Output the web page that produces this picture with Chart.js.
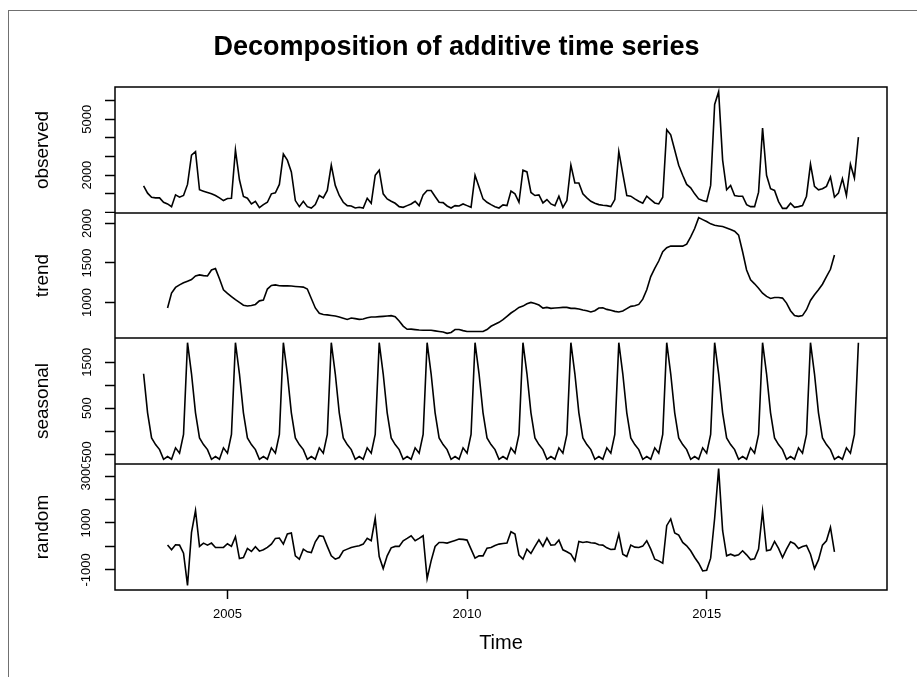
<!DOCTYPE html>
<html lang="en">
<head>
  <meta charset="UTF-8">
  <title>Decomposition of additive time series</title>
  <script src="https://cdn.jsdelivr.net/npm/chart.js"></script>
  <style>
    body { margin: 0; background: #fff; overflow: hidden; }
    #frame { position: absolute; left: 8px; top: 10px; width: 909px; height: 667px;
             border-left: 1px solid #707070; border-top: 1px solid #707070; }
    canvas { position: absolute; left: 0; }
  </style>
</head>
<body>
  <div id="frame"></div>
  <canvas id="c1" width="917" height="213" style="top:0px"></canvas>
  <canvas id="c2" width="917" height="125" style="top:213px"></canvas>
  <canvas id="c3" width="917" height="126" style="top:338px"></canvas>
  <canvas id="c4" width="917" height="213" style="top:464px"></canvas>

  <script>
    // monthly series, April 2003 .. March 2018
    const startYear = 2003 + 3 / 12;
    const freq = 12;

    const observed = [
      1420, 1032, 815, 778, 778, 543, 453, 308, 941, 815, 905, 1502,
      3077, 3258, 1213, 1140, 1068, 995, 905, 778, 634, 742, 760, 3349,
      1750, 851, 760, 453, 597, 253, 416, 543, 995, 1050, 1502, 3131,
      2805, 2172, 634, 308, 597, 308, 235, 416, 905, 778, 1177, 2534,
      1448, 905, 543, 362, 344, 235, 272, 235, 760, 489, 1991, 2263,
      995, 724, 597, 489, 308, 272, 362, 453, 597, 362, 941, 1177,
      1177, 851, 543, 525, 344, 235, 362, 344, 453, 362, 272, 1991,
      1358, 724, 543, 416, 308, 235, 398, 362, 1140, 995, 543, 2263,
      2172, 1068, 905, 941, 507, 688, 453, 362, 869, 272, 634, 2534,
      1575, 1575, 995, 778, 597, 489, 416, 380, 362, 308, 688, 3258,
      2082, 905, 869, 724, 597, 489, 869, 688, 507, 453, 815, 4435,
      4163, 3349, 2534, 1991, 1502, 1321, 995, 724, 634, 579, 1448, 5792,
      6480, 2806, 1213, 1448, 905, 869, 869, 416, 308, 308, 1086, 4525,
      1991, 1267, 1177, 579, 217, 217, 489, 272, 308, 362, 869, 2588,
      1394, 1213, 1267, 1394, 1900, 815, 1032, 1810, 905, 2588, 1846, 4036
    ];

    const trend = [
      null, null, null, null, null, null, 929, 1118, 1190, 1223, 1250, 1270,
      1290, 1336, 1349, 1340, 1336, 1412, 1429, 1300, 1160, 1115, 1075, 1035,
      1000, 965, 955, 962, 975, 1020, 1030, 1170, 1215, 1223, 1212, 1210,
      1210, 1208, 1203, 1198, 1194, 1170, 1050, 930, 862, 848, 842, 835,
      828, 815, 800, 785, 803, 795, 785, 790, 805, 816, 816, 820,
      824, 828, 833, 820, 765, 700, 660, 662, 656, 650, 648, 648,
      648, 640, 632, 625, 608, 620, 657, 657, 643, 631, 631, 631,
      631, 631, 657, 698, 723, 748, 782, 824, 866, 900, 937, 954,
      983, 1000, 988, 967, 929, 937, 925, 929, 933, 937, 937, 925,
      925, 916, 904, 895, 879, 895, 929, 933, 912, 900, 887, 879,
      891, 921, 950, 958, 975, 1042, 1160, 1328, 1433, 1525, 1642, 1693,
      1714, 1714, 1714, 1714, 1739, 1832, 1937, 2075, 2050, 2025, 1996, 1979,
      1970, 1962, 1945, 1924, 1903, 1853, 1642, 1412, 1286, 1236, 1181, 1118,
      1076, 1051, 1063, 1063, 1055, 992, 895, 833, 824, 833, 908, 1025,
      1097, 1160, 1231, 1328, 1420, 1601, null, null, null, null, null, null
    ];

    const seasonal = [
      1250, 400, -145, -290, -400, -612, -550, -609, -362, -478, -70, 1927,
      1250, 400, -145, -290, -400, -612, -550, -609, -362, -478, -70, 1927,
      1250, 400, -145, -290, -400, -612, -550, -609, -362, -478, -70, 1927,
      1250, 400, -145, -290, -400, -612, -550, -609, -362, -478, -70, 1927,
      1250, 400, -145, -290, -400, -612, -550, -609, -362, -478, -70, 1927,
      1250, 400, -145, -290, -400, -612, -550, -609, -362, -478, -70, 1927,
      1250, 400, -145, -290, -400, -612, -550, -609, -362, -478, -70, 1927,
      1250, 400, -145, -290, -400, -612, -550, -609, -362, -478, -70, 1927,
      1250, 400, -145, -290, -400, -612, -550, -609, -362, -478, -70, 1927,
      1250, 400, -145, -290, -400, -612, -550, -609, -362, -478, -70, 1927,
      1250, 400, -145, -290, -400, -612, -550, -609, -362, -478, -70, 1927,
      1250, 400, -145, -290, -400, -612, -550, -609, -362, -478, -70, 1927,
      1250, 400, -145, -290, -400, -612, -550, -609, -362, -478, -70, 1927,
      1250, 400, -145, -290, -400, -612, -550, -609, -362, -478, -70, 1927,
      1250, 400, -145, -290, -400, -612, -550, -609, -362, -478, -70, 1927
    ];

    const random = [
      null, null, null, null, null, null, 56, -145, 70, 56, -288, -1661,
      600, 1530, 0, 142, 56, 142, -44, -44, -44, 113, 0, 414,
      -517, -474, -87, -216, -16, -202, -145, -44, 99, 342, 356, 99,
      528, 571, -402, -545, -116, -230, -259, 199, 456, 428, 0, -402,
      -545, -474, -187, -116, -44, 0, 27, 99, 342, 242, 1201, -431,
      -946, -402, -59, 0, 0, 242, 342, 456, 242, 342, 456, -1375,
      -617, 0, 170, 170, 142, 199, 256, 313, 299, 270, -116, -502,
      -402, -402, -73, -44, 42, 99, 127, 142, 628, 528, -373, -545,
      -116, -302, 0, 285, 0, 356, 56, 70, 270, -145, -230, -331,
      -617, 213, 170, 199, 156, 142, 70, 56, -59, -130, -116, 528,
      -331, -431, 56, -30, -44, 13, 242, -116, -545, -617, -717, 886,
      1172, 571, 485, 170, 27, -187, -474, -717, -1046, -1017, -502, 1200,
      3318, 671, -402, -331, -402, -359, -187, -359, -560, -531, -116, 1501,
      -187, -145, 213, -87, -474, -116, 199, 113, -87, 0, 42, -331,
      -946, -574, 56, 242, 814, -230, null, null, null, null, null, null
    ];

    // axis ticks and the labels R managed to print
    const obsTicks = [0, 1000, 2000, 3000, 4000, 5000, 6000];
    const obsLabels = [0, 2000, 5000];
    const trendTicks = [1000, 1500, 2000];
    const trendLabels = [1000, 1500, 2000];
    const seasTicks = [-500, 0, 500, 1000, 1500];
    const seasLabels = [-500, 500, 1500];
    const randTicks = [-1000, 0, 1000, 2000, 3000];
    const randLabels = [-1000, 1000, 3000];
    const yearTicks = [2005, 2010, 2015];

    const FONT = "'Liberation Sans', Arial, Helvetica, sans-serif";
    Chart.defaults.font.family = FONT;
    Chart.defaults.color = '#000';

    const times = observed.map((_, i) => startYear + i / freq);

    // R pads axis ranges by 4% on each side
    function padRange(vals) {
      const v = vals.filter(x => x !== null);
      const lo = Math.min(...v), hi = Math.max(...v);
      const d = (hi - lo) * 0.04;
      return [lo - d, hi + d];
    }
    const xLim = padRange(times);

    const boxPlugin = {
      id: 'box',
      afterDraw(chart) {
        const { ctx, chartArea: a } = chart;
        ctx.save();
        ctx.strokeStyle = '#000';
        ctx.lineWidth = 1.5;
        ctx.strokeRect(a.left, a.top, a.right - a.left, a.bottom - a.top);
        ctx.restore();
      }
    };

    function panel(id, name, values, ticks, labels, labelPad, extra) {
      const lim = padRange(values);
      const isLast = !!extra.bottomAxis;
      const hasTitle = !!extra.title;
      const scales = {
        x: {
          type: 'linear',
          min: xLim[0],
          max: xLim[1],
          display: isLast,
          position: 'bottom',
          afterBuildTicks: ax => { ax.ticks = yearTicks.map(v => ({ value: v })); },
          afterFit: ax => {
            if (isLast) ax.height = 87;
            ax.paddingLeft = 0; ax.paddingRight = 0;
          },
          grid: { drawOnChartArea: false, tickLength: 9, tickWidth: 1.5, tickColor: '#000' },
          border: { display: false },
          ticks: { maxRotation: 0, autoSkip: false, padding: 8, font: { size: 13 },
                   callback: v => String(v) },
          title: { display: true, text: 'Time', font: { size: 20 }, padding: { top: 0, bottom: 22 } }
        },
        y: {
          type: 'linear',
          min: lim[0],
          max: lim[1],
          afterBuildTicks: ax => { ax.ticks = ticks.map(v => ({ value: v })); },
          afterFit: ax => { ax.width = 115; ax.paddingTop = 0; ax.paddingBottom = 0; },
          grid: { drawOnChartArea: false, tickLength: 10, tickWidth: 1.5, tickColor: '#000' },
          border: { display: false },
          ticks: {
            minRotation: 90, maxRotation: 90, autoSkip: false, crossAlign: 'center',
            padding: labelPad, font: { size: 13 },
            callback: v => labels.includes(v) ? String(v) : ''
          },
          title: { display: true, text: name, font: { size: 19 }, padding: { top: 31.6, bottom: 0 } }
        }
      };
      if (hasTitle) {
        // empty right-hand axis keeps the plot edge while the title centres on the page
        scales.yRight = {
          type: 'linear', position: 'right', display: true,
          grid: { display: false }, border: { display: false },
          ticks: { display: false }, title: { display: false },
          afterFit: ax => { ax.width = 26; ax.paddingTop = 0; ax.paddingBottom = 0; }
        };
      }
      const cfg = {
        type: 'line',
        data: {
          datasets: [{
            data: values.map((v, i) => ({ x: times[i], y: v })),
            borderColor: '#000',
            borderWidth: 1.6,
            pointRadius: 0,
            tension: 0,
            fill: false
          }]
        },
        options: {
          responsive: false,
          animation: false,
          events: [],
          layout: { autoPadding: false, padding: { left: 0, right: hasTitle ? 4 : 30, top: 0, bottom: 0 } },
          plugins: {
            legend: { display: false },
            tooltip: { enabled: false },
            title: hasTitle ? {
              display: true,
              text: extra.title,
              font: { size: 27, weight: 'bold' },
              color: '#000',
              padding: { top: 31, bottom: 23.6 }
            } : { display: false }
          },
          scales
        },
        plugins: [boxPlugin]
      };
      return new Chart(document.getElementById(id), cfg);
    }

    panel('c1', 'observed', observed, obsTicks, obsLabels, 3.5,
          { title: 'Decomposition of additive time series' });
    panel('c2', 'trend', trend, trendTicks, trendLabels, 3.5, {});
    panel('c3', 'seasonal', seasonal, seasTicks, seasLabels, 3.5, {});
    panel('c4', 'random', random, randTicks, randLabels, 1.5, { bottomAxis: true });
  </script>
</body>
</html>
